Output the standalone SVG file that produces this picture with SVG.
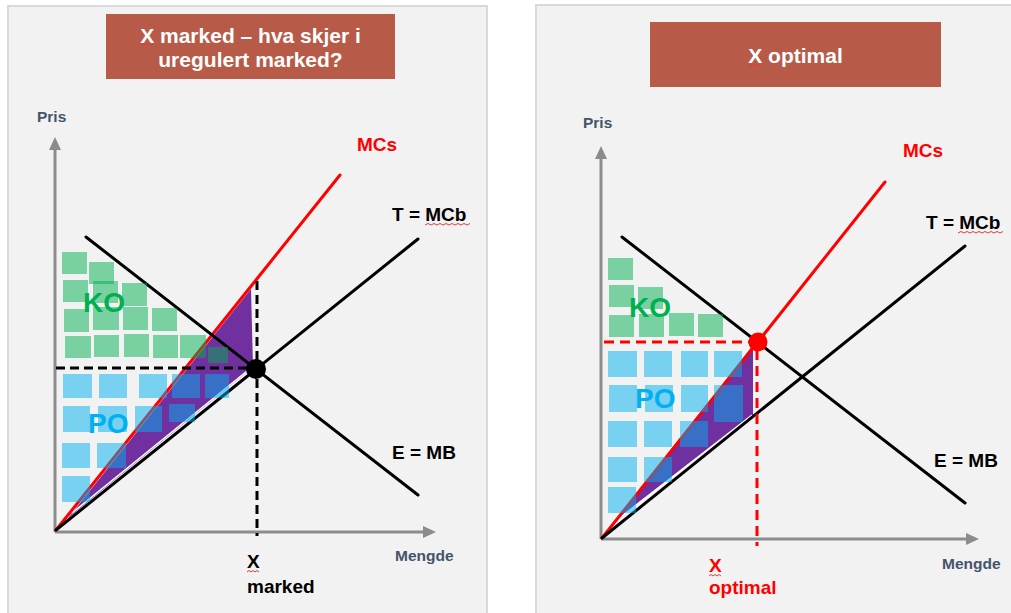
<svg xmlns="http://www.w3.org/2000/svg" width="1011" height="613" viewBox="0 0 1011 613">
  <defs>
    <style>
      .panel { fill: #f2f2f2; stroke: #d9d9d9; stroke-width: 2; }
      .title-box { fill: #b85a48; }
      .title { font-family: "Liberation Sans", Arial, sans-serif; font-weight: bold; font-size: 21px; fill: #ffffff; text-anchor: middle; }
      .axis { stroke: #8c8c8c; stroke-width: 3; fill: none; }
      .axis-head { fill: #8c8c8c; }
      .axis-label { font-family: "Liberation Sans", Arial, sans-serif; font-weight: bold; font-size: 15.5px; fill: #44546a; }
      .curve { stroke-width: 3; fill: none; stroke-linecap: round; }
      .red { stroke: #ff0000; }
      .black { stroke: #000000; }
      .dash-black { stroke: #000000; stroke-width: 3; stroke-dasharray: 9 5; fill: none; }
      .dash-red { stroke: #ff0000; stroke-width: 3; stroke-dasharray: 10 6; fill: none; }
      .area { fill: #7030a0; }
      .gap { stroke: #ffffff; stroke-width: 1.5; fill: none; }
      .ko { fill: #00b050; fill-opacity: 0.5; }
      .po { fill: #00b0f0; fill-opacity: 0.5; }
      .big { font-family: "Liberation Sans", Arial, sans-serif; font-weight: bold; font-size: 28px; }
      .lbl { font-family: "Liberation Sans", Arial, sans-serif; font-weight: bold; font-size: 19px; }
      .squiggle { stroke: #e03c3c; stroke-width: 1; fill: none; }
    </style>
  </defs>

  <rect width="1011" height="613" fill="#ffffff"/>

  <!-- Left panel: unregulated market -->
  <g id="panel-left">
    <rect class="panel" x="8" y="6" width="479" height="620"/>
    <g id="title-left">
      <rect class="title-box" x="106" y="14" width="289" height="65"/>
      <text class="title" x="250.5" y="43">X marked – hva skjer i</text>
      <text class="title" x="250.5" y="67">uregulert marked?</text>
      <polyline class="squiggle" points="140,45 142,43.5 144,45 146,43.5 148,45 150,43.5 152,45 154,43.5"/>
    </g>

    <g id="axes-left">
      <line class="axis" x1="55" y1="532" x2="55" y2="148"/>
      <polygon class="axis-head" points="55,137 49,150 61,150"/>
      <line class="axis" x1="55" y1="532" x2="424" y2="532"/>
      <polygon class="axis-head" points="436,532 423,526 423,538"/>
      <text class="axis-label" x="37" y="122">Pris</text>
      <text class="axis-label" x="395" y="561">Mengde</text>
    </g>

    <g id="welfare-loss-left">
      <polygon class="area" points="68,518 251,289 253,367"/>
      <line class="gap" x1="72" y1="513" x2="252" y2="367"/>
    </g>

    <g id="connectors-left">
      <line class="curve red" x1="56" y1="530" x2="340" y2="175"/>
      <line class="curve black" x1="56" y1="530" x2="418" y2="239"/>
      <line class="curve black" x1="86" y1="237" x2="418" y2="495"/>
      <line class="dash-black" x1="56" y1="368" x2="250" y2="368"/>
      <line class="dash-black" x1="257" y1="281" x2="257" y2="536"/>
    </g>

    <circle id="equilibrium-left" cx="256" cy="369" r="10" fill="#000000"/>

    <g id="ko-left">
      <rect class="ko" x="62" y="252" width="25" height="22"/>
      <rect class="ko" x="89" y="262" width="25" height="22"/>
      <rect class="ko" x="63" y="280" width="25" height="22"/>
      <rect class="ko" x="93" y="281" width="25" height="22"/>
      <rect class="ko" x="122" y="283" width="25" height="23"/>
      <rect class="ko" x="64" y="309" width="25" height="23"/>
      <rect class="ko" x="93" y="307" width="26" height="23"/>
      <rect class="ko" x="123" y="307" width="25" height="23"/>
      <rect class="ko" x="152" y="308" width="25" height="23"/>
      <rect class="ko" x="65" y="336" width="26" height="22"/>
      <rect class="ko" x="94" y="335" width="25" height="22"/>
      <rect class="ko" x="124" y="334" width="25" height="23"/>
      <rect class="ko" x="153" y="335" width="25" height="23"/>
      <rect class="ko" x="180" y="335" width="26" height="23"/>
      <rect class="ko" x="208" y="347" width="20" height="16"/>
      <text class="big" x="83" y="312" fill="#00b050">KO</text>
    </g>

    <g id="po-left">
      <rect class="po" x="63" y="374" width="29" height="24"/>
      <rect class="po" x="99" y="374" width="28" height="24"/>
      <rect class="po" x="139" y="374" width="28" height="24"/>
      <rect class="po" x="172" y="374" width="28" height="24"/>
      <rect class="po" x="205" y="374" width="24" height="24"/>
      <rect class="po" x="63" y="406" width="27" height="26"/>
      <rect class="po" x="98" y="406" width="29" height="26"/>
      <rect class="po" x="135" y="406" width="27" height="26"/>
      <rect class="po" x="169" y="404" width="26" height="18"/>
      <rect class="po" x="62" y="443" width="28" height="25"/>
      <rect class="po" x="97" y="443" width="29" height="25"/>
      <rect class="po" x="62" y="476" width="28" height="26"/>
      <text class="big" x="88" y="433" fill="#00b0f0">PO</text>
    </g>

    <g id="labels-left">
      <text class="lbl" x="357" y="151" fill="#ff0000">MCs</text>
      <text class="lbl" x="392" y="221" fill="#000000">T = MCb</text>
      <polyline class="squiggle" points="425,225 428,223.5 431,225 434,223.5 437,225 440,223.5 443,225 446,223.5 449,225 452,223.5 455,225 458,223.5 461,225 464,223.5 467,225 470,223.5"/>
      <text class="lbl" x="392" y="459" fill="#000000">E = MB</text>
      <text class="lbl" x="247" y="568" fill="#000000">X</text>
      <polyline class="squiggle" points="247,572 249,570.5 251,572 253,570.5 255,572 257,570.5 259,572"/>
      <text class="lbl" x="247" y="593" fill="#000000">marked</text>
    </g>
  </g>

  <!-- Right panel: optimal quantity -->
  <g id="panel-right">
    <rect class="panel" x="536" y="5" width="490" height="620"/>
    <g id="title-right">
      <rect class="title-box" x="650" y="22" width="291" height="65"/>
      <text class="title" x="795.5" y="63">X optimal</text>
      <polyline class="squiggle" points="748,66 750,64.5 752,66 754,64.5 756,66 758,64.5 760,66 762,64.5"/>
    </g>

    <g id="axes-right">
      <line class="axis" x1="601" y1="539" x2="601" y2="157"/>
      <polygon class="axis-head" points="601,146 595,159 607,159"/>
      <line class="axis" x1="601" y1="539" x2="967" y2="539"/>
      <polygon class="axis-head" points="979,539 966,533 966,545"/>
      <text class="axis-label" x="583" y="128">Pris</text>
      <text class="axis-label" x="942" y="569">Mengde</text>
    </g>

    <g id="welfare-loss-right">
      <polygon class="area" points="616,520 753,345 753,415"/>
      <line class="gap" x1="622" y1="516" x2="752" y2="415"/>
    </g>

    <g id="connectors-right">
      <line class="curve red" x1="602" y1="538" x2="885" y2="182"/>
      <line class="curve black" x1="602" y1="538" x2="965" y2="246"/>
      <line class="curve black" x1="622" y1="237" x2="965" y2="503"/>
      <line class="dash-red" x1="604" y1="342" x2="752" y2="342"/>
      <line class="dash-red" x1="757" y1="350" x2="757" y2="546"/>
    </g>

    <circle id="optimum-right" cx="758" cy="342" r="9.5" fill="#ff0000"/>

    <g id="ko-right">
      <rect class="ko" x="608" y="258" width="25" height="22"/>
      <rect class="ko" x="609" y="285" width="25" height="22"/>
      <rect class="ko" x="638" y="287" width="25" height="22"/>
      <rect class="ko" x="609" y="315" width="25" height="22"/>
      <rect class="ko" x="639" y="314" width="25" height="23"/>
      <rect class="ko" x="669" y="313" width="25" height="23"/>
      <rect class="ko" x="698" y="314" width="25" height="23"/>
      <text class="big" x="629" y="317" fill="#00b050">KO</text>
    </g>

    <g id="po-right">
      <rect class="po" x="608" y="351" width="29" height="26"/>
      <rect class="po" x="644" y="351" width="28" height="26"/>
      <rect class="po" x="681" y="351" width="27" height="26"/>
      <rect class="po" x="714" y="351" width="28" height="26"/>
      <rect class="po" x="609" y="385" width="28" height="27"/>
      <rect class="po" x="645" y="385" width="28" height="27"/>
      <rect class="po" x="681" y="385" width="27" height="27"/>
      <rect class="po" x="714" y="385" width="29" height="37"/>
      <rect class="po" x="608" y="421" width="29" height="26"/>
      <rect class="po" x="644" y="421" width="28" height="26"/>
      <rect class="po" x="680" y="421" width="28" height="26"/>
      <rect class="po" x="608" y="457" width="29" height="25"/>
      <rect class="po" x="644" y="457" width="28" height="25"/>
      <rect class="po" x="608" y="487" width="28" height="26"/>
      <text class="big" x="635" y="408" fill="#00b0f0">PO</text>
    </g>

    <g id="labels-right">
      <text class="lbl" x="903" y="157" fill="#ff0000">MCs</text>
      <text class="lbl" x="926" y="229" fill="#000000">T = MCb</text>
      <polyline class="squiggle" points="958,233 961,231.5 964,233 967,231.5 970,233 973,231.5 976,233 979,231.5 982,233 985,231.5 988,233 991,231.5 994,233 997,231.5 1000,233 1003,231.5"/>
      <text class="lbl" x="934" y="467" fill="#000000">E = MB</text>
      <text class="lbl" x="709" y="572" fill="#ff0000">X</text>
      <polyline class="squiggle" points="709,576 711,574.5 713,576 715,574.5 717,576 719,574.5 721,576"/>
      <text class="lbl" x="709" y="594" fill="#ff0000">optimal</text>
    </g>
  </g>
</svg>
